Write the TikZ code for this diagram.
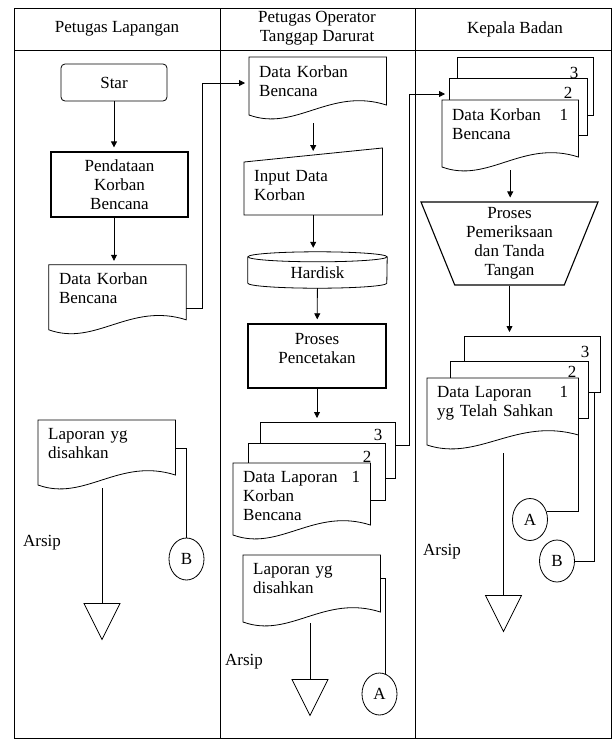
\documentclass[tikz,border=0pt]{standalone}
\usepackage{fontspec}
\setmainfont{Liberation Serif}
\usepackage{tikz}
\usetikzlibrary{positioning,arrows.meta,shapes.geometric,calc,backgrounds}
\newcommand{\chartfont}{\fontsize{17pt}{19pt}\selectfont}
% document outline: node name, height at the left edge
\newcommand{\docpath}[2]{(#1.north west) -- (#1.north east) -- ($(#1.north east)+(0,#2-10)$)
  .. controls ($(#1.north west)!0.59!(#1.north east)+(0,#2-28)$) and ($(#1.north west)!0.34!(#1.north east)+(0,#2+17)$)
  .. ($(#1.north west)+(0,#2)$) -- cycle}
\tikzset{
  chart-line/.style={draw=black, line width=0.8pt},
  frame-line/.style={draw=black, line width=1pt},
  sheet-line/.style={chart-line, fill=white},
  lane-title/.style={align=center},
  start-node/.style={draw, line width=0.8pt, rounded corners=4pt, minimum width=106pt,
    minimum height=37pt, align=center},
  process-node/.style={draw, line width=1.4pt, minimum width=137pt, minimum height=65pt,
    align=center, inner sep=2pt},
  check-node/.style={trapezium, draw, line width=1.1pt, shape border rotate=180,
    trapezium left angle=66, trapezium right angle=66, trapezium stretches body,
    minimum width=177pt, minimum height=83pt, align=center, inner sep=2pt},
  doc-node/.style={anchor=north west, text width=117pt, inner xsep=10pt, inner ysep=8pt, align=left},
  sheet-node/.style={anchor=north west, draw, fill=white, line width=0.8pt, inner sep=0pt},
  disk-node/.style={minimum width=139pt, minimum height=31pt, inner sep=0pt},
  connector-node/.style={ellipse, draw, line width=0.8pt, minimum width=35pt,
    minimum height=42pt, inner sep=0pt},
  archive-node/.style={isosceles triangle, isosceles triangle stretches, shape border rotate=270,
    draw, line width=0.8pt, minimum width=36pt, minimum height=36pt, inner sep=0pt},
  flow-arrow/.style={chart-line, -{Triangle[length=6pt,width=6pt]}, shorten >=4pt}
}

\begin{document}
\begin{tikzpicture}[x=1pt, y=-1pt, every node/.style={font=\chartfont}]
\useasboundingbox (0,0) rectangle (615,740);

% Swimlane frame
\draw[frame-line] (14,8) rectangle (611,738);
\draw[frame-line] (14,50) -- (611,50);
\draw[frame-line] (220,8) -- (220,738);
\draw[frame-line] (415,8) -- (415,738);

% Lane titles
\node[lane-title] (lane-lap) at (117,29) {Petugas Lapangan};
\node[lane-title] (lane-op) at (317,28) {Petugas Operator\\Tanggap Darurat};
\node[lane-title] (lane-kb) at (515,29) {Kepala Badan};

% Lane 1: Petugas Lapangan
\node[start-node] (star) at (114,82.5) {Star};
\node[process-node, below=50pt of star, xshift=5.5pt] (pend) {Pendataan\\Korban\\Bencana};
\node[doc-node, below=47pt of pend, xshift=-2pt] (dkb-lap) {Data Korban\\Bencana};
\node[doc-node] (lap-lap) at (38,420) {Laporan yg\\disahkan};
\begin{scope}[on background layer]
\draw[sheet-line] \docpath{dkb-lap}{65};
\draw[sheet-line] \docpath{lap-lap}{65};
\end{scope}
\node[connector-node] (conB1) at (186.5,559) {B};
\node[archive-node, anchor=north] (arsip1) at (102,603) {};
\node (arsip-lbl1) at (42,543) {Arsip};

% Lane 2: Petugas Operator Tanggap Darurat
\node[doc-node] (dkb-op) at (249,57) {Data Korban\\Bencana};
\node[doc-node, text width=118pt] (inp) at (244,162) {Input Data\\Korban};
\node[disk-node] (hdd) at (317.5,272.5) {Hardisk};
\node[process-node, minimum width=138pt, minimum height=64pt, text depth=16pt] (proc2) at (317,356) {Proses\\Pencetakan};
\node[doc-node] (dlp-op1) at (233,463) {Data Laporan\hfill 1\\Korban\\Bencana};
\node[doc-node] (lap-op) at (243,555) {Laporan yg\\disahkan};
\begin{scope}[on background layer]
\draw[sheet-line] \docpath{dkb-op}{58};
\node[sheet-node, minimum width=135pt, minimum height=56pt] (dlp-op3) at (260,422) {};
\node (dlp-op3-no) at (378,435) {3};
\node[sheet-node, minimum width=137pt, minimum height=57pt] (dlp-op2) at (248,443) {};
\node (dlp-op2-no) at (367,457) {2};
\draw[sheet-line] \docpath{dlp-op1}{72};
\draw[sheet-line] \docpath{lap-op}{67};
\end{scope}
\draw[chart-line] (inp.north west) -- ($(inp.north east)+(0,-14)$) -- ($(inp.north east)+(0,53)$) -- ($(inp.north west)+(0,53)$) -- cycle;
\draw[chart-line] (hdd.north) ellipse [x radius=69.5pt, y radius=5pt];
\draw[chart-line] (hdd.north west) -- ([yshift=5pt]hdd.south west) arc [start angle=180, end angle=360, x radius=69.5pt, y radius=5pt] -- (hdd.north east);
\node[connector-node] (conA2) at (379.5,694) {A};
\node[archive-node, anchor=north] (arsip2) at (310,679) {};
\node (arsip-lbl2) at (244,662) {Arsip};

% Lane 3: Kepala Badan
\node[doc-node, text width=116pt] (dkb-kb1) at (442,100) {Data Korban\hfill 1\\Bencana};
\node[check-node] (proc3) at (509.5,243.5) {Proses\\Pemeriksaan\\dan Tanda\\Tangan};
\node[doc-node, text width=131pt] (dlp-kb1) at (427,378) {Data Laporan\hfill 1\\yg Telah Sahkan};
\begin{scope}[on background layer]
\node[sheet-node, minimum width=136pt, minimum height=58pt] (dkb-kb3) at (457,57) {};
\node (dkb-kb3-no) at (574,73) {3};
\node[sheet-node, minimum width=138pt, minimum height=57pt] (dkb-kb2) at (449,78) {};
\node (dkb-kb2-no) at (568,93) {2};
\draw[sheet-line] \docpath{dkb-kb1}{67};
\node[sheet-node, minimum width=136pt, minimum height=56pt] (dlp-kb3) at (464,336) {};
\node (dlp-kb3-no) at (585,352) {3};
\node[sheet-node, minimum width=138pt, minimum height=57pt] (dlp-kb2) at (450,361) {};
\node (dlp-kb2-no) at (572,372) {2};
\draw[sheet-line] \docpath{dlp-kb1}{67};
\end{scope}
\node[connector-node] (conA3) at (530,519.5) {A};
\node[connector-node] (conB3) at (557,561) {B};
\node[archive-node, anchor=north] (arsip3) at (503.5,595) {};
\node (arsip-lbl3) at (442,552) {Arsip};

% Lane 1 flow
\draw[flow-arrow] (star) -- (star |- pend.north);
\draw[flow-arrow] (pend.south -| star) -- (star |- dkb-lap.north);
\draw[flow-arrow] ($(dkb-lap.north east)+(0,44)$) -- ++(16,0) |- ($(dkb-op.north west)+(0,26)$);
\draw[chart-line] ($(lap-lap.north east)+(0,28)$) -| (conB1.north);
\draw[chart-line] ($(arsip1.north |- lap-lap.north)+(0,68)$) -- (arsip1.north);

% Lane 2 flow
\draw[flow-arrow] ($(inp.north |- dkb-op.north)+(0,66)$) -- ($(inp.north)+(0,-7)$);
\draw[flow-arrow] ($(inp.north)+(0,53)$) -- ($(inp.north |- hdd.north)+(0,-5)$);
\draw[flow-arrow] (hdd) -- (proc2);
\draw[flow-arrow] (proc2) -- (proc2.south |- dlp-op3.north);
\draw[flow-arrow] ($(dlp-op3.north east)+(0,23)$) -- ++(14,0) |- ($(dkb-kb2.north west)+(0,16)$);
\draw[chart-line] ($(lap-op.north east)+(0,23)$) -| (conA2.75);
\draw[chart-line] ($(arsip2.north |- lap-op.north)+(0,68)$) -- (arsip2.north);

% Lane 3 flow
\draw[flow-arrow] ($(dkb-kb1.north)+(0,70)$) -- (dkb-kb1.north |- proc3.north);
\draw[flow-arrow] (proc3.south) -- (proc3.south |- dlp-kb3.north);
\draw[chart-line] ($(dlp-kb1.north east)+(0,57)$) |- (conA3.25);
\draw[chart-line] ($(dlp-kb3.south east)+(-6,0)$) |- (conB3.east);
\draw[chart-line] ($(arsip3.north |- dlp-kb1.north)+(0,75)$) -- (arsip3.north);
\end{tikzpicture}
\end{document}
